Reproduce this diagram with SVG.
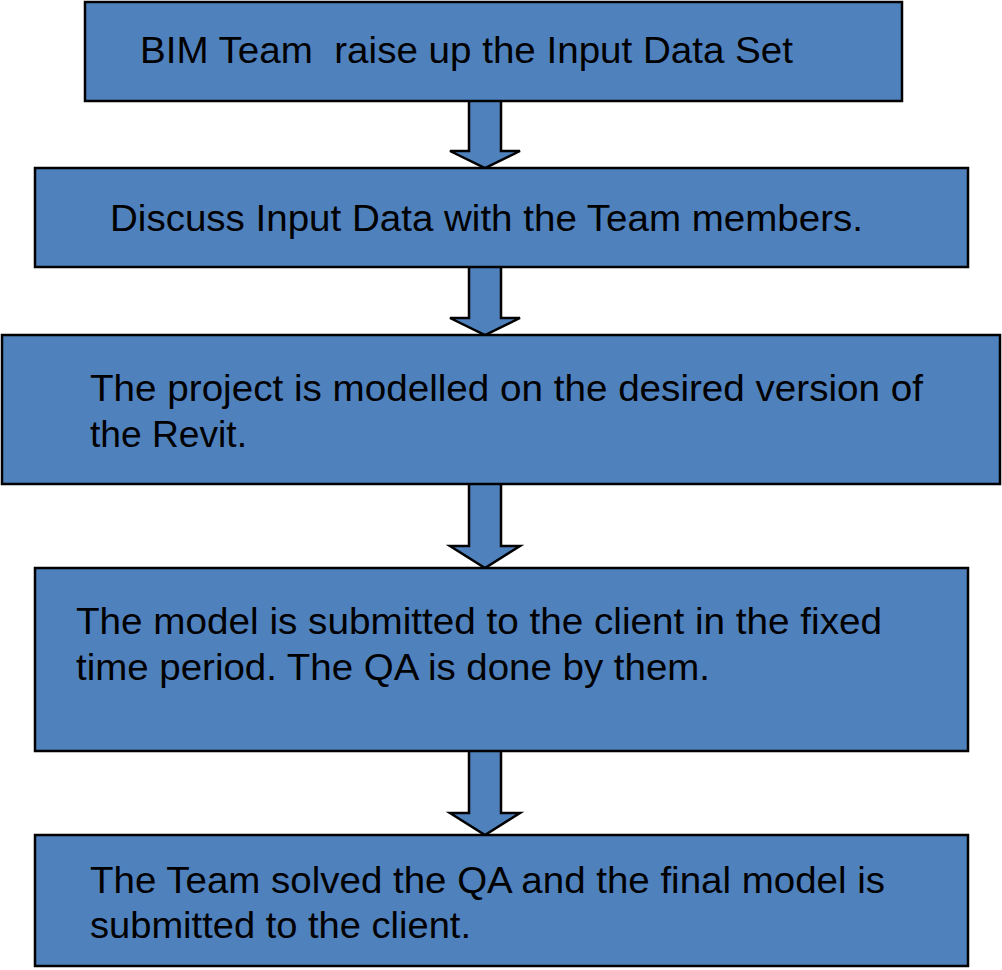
<svg xmlns="http://www.w3.org/2000/svg" width="1002" height="970" viewBox="0 0 1002 970">
<style>
.box{fill:#4F81BD;stroke:#000;stroke-width:2.5}
.arr{fill:#4F81BD;stroke:#000;stroke-width:2.5;stroke-linejoin:miter}
.t{font-family:"Liberation Sans",Arial,sans-serif;font-size:37px;fill:#000}
</style>
<rect width="1002" height="970" fill="#fff"/>
<g id="connectors">
<path class="arr" d="M469,101 V151 H450 L485,168 L520,151 H501 V101"/>
<path class="arr" d="M469,267 V318 H450 L485,335 L520,318 H501 V267"/>
<path class="arr" d="M469,484 V546 H450 L485,568 L520,546 H501 V484"/>
<path class="arr" d="M469,751 V813 H450 L485,835 L520,813 H501 V751"/>
</g>
<g id="n1"><rect class="box" x="85" y="2" width="817" height="99"/>
<text class="t" x="140" y="63" xml:space="preserve" textLength="653" lengthAdjust="spacingAndGlyphs">BIM Team  raise up the Input Data Set</text></g>
<g id="n2"><rect class="box" x="35" y="168" width="933" height="99"/>
<text class="t" x="110" y="231" textLength="753" lengthAdjust="spacingAndGlyphs">Discuss Input Data with the Team members.</text></g>
<g id="n3"><rect class="box" x="2" y="335" width="998" height="149"/>
<text class="t" x="90" y="401" textLength="833" lengthAdjust="spacingAndGlyphs">The project is modelled on the desired version of</text>
<text class="t" x="90" y="447" textLength="157" lengthAdjust="spacingAndGlyphs">the Revit.</text></g>
<g id="n4"><rect class="box" x="35" y="568" width="933" height="183"/>
<text class="t" x="76" y="634" textLength="806" lengthAdjust="spacingAndGlyphs">The model is submitted to the client in the fixed</text>
<text class="t" x="76" y="680" textLength="634" lengthAdjust="spacingAndGlyphs">time period. The QA is done by them.</text></g>
<g id="n5"><rect class="box" x="35" y="835" width="933" height="131"/>
<text class="t" x="90" y="893" textLength="795" lengthAdjust="spacingAndGlyphs">The Team solved the QA and the final model is</text>
<text class="t" x="90" y="938" textLength="381" lengthAdjust="spacingAndGlyphs">submitted to the client.</text></g>
</svg>
